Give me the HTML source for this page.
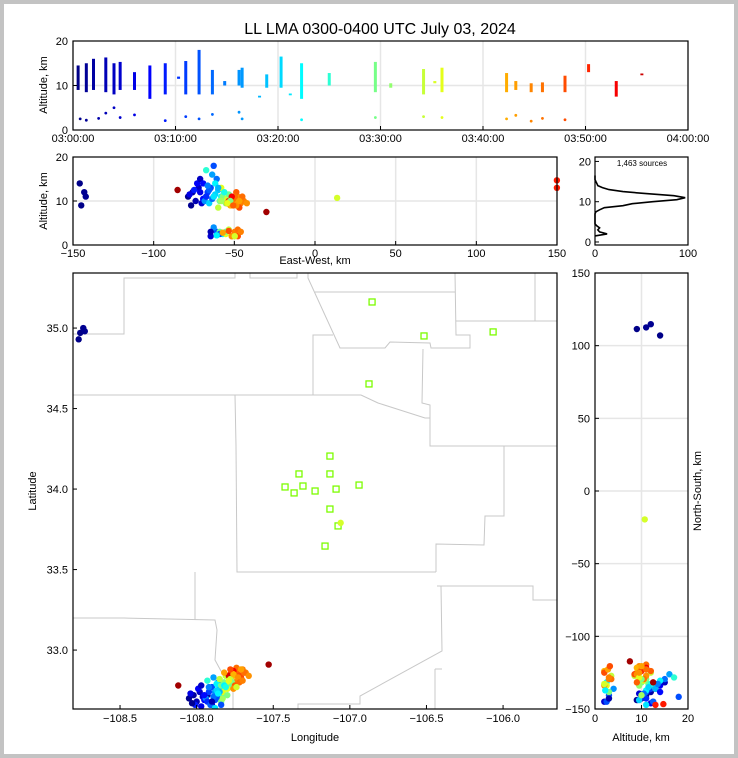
<!DOCTYPE html>
<html><head><meta charset="utf-8"><style>
html,body{margin:0;padding:0;background:#fff}
svg{display:block;font-family:"Liberation Sans","DejaVu Sans",sans-serif}
</style></head><body>
<svg id="chart" width="738" height="758" viewBox="0 0 738 758" xmlns="http://www.w3.org/2000/svg">
<rect x="0" y="0" width="738" height="758" fill="#c3c3c3"/>
<rect x="4" y="4" width="730" height="750" fill="#ffffff"/>
<text x="380" y="34" font-size="16" text-anchor="middle" fill="#000">LL LMA 0300-0400 UTC July 03, 2024</text>
<g id="layer"></g>
</svg>
<script>
// ---- data ----
var timeTickLabels = ["03:00:00","03:10:00","03:20:00","03:30:00","03:40:00","03:50:00","04:00:00"];
var flashTime = [0.5,1.3,2,3.2,4,4.6,6,7.5,9,10.3,11,12.3,13.6,14.8,16.2,16.5,18.2,18.9,20.3,21.2,22.3,25,29.5,31,34.2,35.3,36,42.3,43.2,44.7,45.8,48,50.3,53,55.5];
var flashLo   = [9,8.5,9,8.5,8,9,9,7,8,11.5,8,8,8,10,10,9.5,7.3,9.5,9.5,7.8,7,10,8.5,9.5,8,10.5,8.5,8.5,9,8.5,8.5,8.5,13,7.5,12.3];
var flashHi   = [14.5,15,16,16.3,15,15.3,13,14.5,15,12,15.5,18,13.5,11,13.5,14,7.7,12.5,16.5,8.2,15,12.8,15.3,10.5,13.7,11,14,12.8,11,10.5,10.7,12.2,14.8,11,12.7];
var lowTime = [0.7,1.3,2.5,3.2,4,4.6,6,9,11,12.3,13.6,16.2,16.5,22.3,29.5,34.2,36,42.3,43.2,44.7,45.8,48];
var lowAlt  = [2.5,2.2,2.6,3.8,5,2.8,3.4,2.1,3,2.5,3.5,4,2.5,2.3,2.8,3,2.8,2.5,3.3,2,2.6,2.3];
// sources (lon, lat, alt km, minutes after 03:00)
var srcLon = [-108.05,-108.02,-108.00,-107.98,-107.96,-108.04,-107.99,-107.95,-108.01,-107.97,-107.93,-108.03,
  -107.92,-107.90,-107.88,-107.86,-107.94,-107.89,-107.85,-107.91,-107.87,-107.83,-107.93,-107.88,
  -107.84,-107.82,-107.80,-107.81,-107.79,-107.83,-107.85,-107.78,
  -107.76,-107.74,-107.72,-107.70,-107.75,-107.73,-107.71,-107.77,-107.68,-107.74,
  -107.78,-107.76,-107.79,
  -107.90,-107.86,-107.82,-107.78,-107.76,-107.74,-107.88,-107.80,-107.72,-107.84,
  -107.97,-107.93,-107.89,-107.85,-107.81,-107.77,-107.73,-107.69,-107.95,-107.91,-107.87,-107.83,-107.79,-107.75,-107.71,-107.66,-107.92,-107.88,
  -107.84,-107.80,-107.76,-107.72,-107.90,-107.86,-107.82,-107.78,-107.74,-107.70,
  -108.77,-108.76,-108.73,-108.74,-108.12,-107.53,-107.06,-105.60,-105.60];
var srcLat = [32.70,32.72,32.68,32.74,32.71,32.73,32.76,32.69,32.66,32.78,32.72,32.67,
  32.74,32.77,32.72,32.80,32.70,32.83,32.76,32.67,32.79,32.73,32.81,32.69,
  32.78,32.80,32.76,32.84,32.79,32.74,32.82,32.77,
  32.84,32.86,32.82,32.88,32.80,32.85,32.83,32.87,32.86,32.89,
  32.85,32.87,32.84,
  32.66,32.70,32.78,32.82,32.85,32.80,32.74,32.76,32.84,32.68,
  32.65,32.68,32.71,32.74,32.77,32.80,32.83,32.86,32.72,32.66,32.75,32.70,32.81,32.78,32.88,32.84,32.77,32.64,
  32.66,32.72,32.76,32.80,32.68,32.73,32.86,32.88,32.77,32.81,
  34.93,34.97,34.98,35.00,32.78,32.91,33.79,32.64,32.645];
var srcAlt = [11,12,10,13,9.5,11.5,14,10.5,12.5,15,11,9,
  12,13,11,15,10,16,12.5,9.5,14,11,17,18,
  10,11,9.5,12,10.5,13,8.5,11.5,
  9,10,11,9.5,10.5,12,8.5,9,10,11,
  10,11,9.5,
  2,3,2.5,3.5,2,3,4,2.5,2,3,
  12,11,10.5,13,12,10,9,11,14,12.5,11.5,10,9.5,9,10,9.5,13.5,11,
  2.5,3,2,3.5,3,2.2,2.8,3.2,2,3,
  14,9,11,12,12.5,7.5,10.7,13,14.7];
var srcTime = [1,2,3,4,5,6,7,8,9,4,2,1,
  11,12,13,14,16,17,19,20,22,22,25,12,
  29,30,31,34,35,36,34,29,
  42,43,44,45,46,47,48,42,45,46,
  50,53,55,
  5,12,22,34,42,45,16,36,48,29,
  6,10,14,18,24,30,44,46,8,13,20,32,36,47,43,44,15,21,
  12,30,44,46,3,22,43,48,35,45,
  0.5,0.5,1,1,58,58,35,51,51];
var histAlt   = [1.5,2,2.5,3,3.5,4,4.5,5,5.5,6,6.5,7,7.5,8,8.5,9,9.5,10,10.5,11,11.5,12,12.5,13,13.5,14,14.5,15,15.5,16,16.5];
var histCount = [0,13,5,3,5,2,0,0,0,0,0,0,1,5,10,30,40,62,88,97,85,55,30,15,8,3,2,1,0,0,0];
var stationLon = [-106.855,-106.516,-106.065,-106.875,-107.130,-107.332,-107.130,-107.423,-107.306,-107.364,-107.227,-107.090,-106.940,-107.130,-107.077,-107.162];
var stationLat = [35.162,34.951,34.976,34.653,34.205,34.094,34.094,34.013,34.019,33.976,33.988,34.000,34.025,33.876,33.771,33.646];
var sourceLabel = "1,463 sources";

// ---- helpers ----
var NS = "http://www.w3.org/2000/svg";
var layer = document.getElementById('layer');
function mk(tag, attrs, parent){ var e=document.createElementNS(NS,tag); for(var k in attrs) e.setAttribute(k,attrs[k]); (parent||layer).appendChild(e); return e; }
function lin(d0,d1,r0,r1){ return function(v){ return r0+(v-d0)/(d1-d0)*(r1-r0); }; }
function jet(t){ t=Math.max(0,Math.min(1,t)); function c(v){return Math.round(255*Math.max(0,Math.min(1,v)));}
  return "rgb("+c(1.5-Math.abs(4*t-3))+","+c(1.5-Math.abs(4*t-2))+","+c(1.5-Math.abs(4*t-1))+")"; }
function colorT(m){ return jet(m/60); }
var lon0=-107.207, lat0=33.966, kmLon=93.3, kmLat=111;
function ewKm(lon){ return (lon-lon0)*kmLon; }
function nsKm(lat){ return (lat-lat0)*kmLat; }
function txt(x,y,s,anchor,size,name,rot){ var t=mk('text',{x:x,y:y,'font-size':size||11,'text-anchor':anchor||'middle',fill:'#000'}); if(rot) t.setAttribute('transform','rotate('+rot+' '+x+' '+y+')'); t.textContent=s;
  
  
  return t; }
function frame(x0,y0,x1,y1,name){ var r=mk('rect',{x:x0,y:y0,width:x1-x0,height:y1-y0,fill:'none',stroke:'#000','stroke-width':1.2});
  
   }
function grid(x1,y1,x2,y2){ var l=mk('line',{x1:x1,y1:y1,x2:x2,y2:y2,stroke:'#e6e6e6','stroke-width':1.5});
  
   }
function tick(x1,y1,x2,y2){ var l=mk('line',{x1:x1,y1:y1,x2:x2,y2:y2,stroke:'#000','stroke-width':1});
  
   }
function dot(x,y,r,fill){ var c=mk('circle',{cx:x,cy:y,r:r,fill:fill});
  
   return c; }

// ---- top panel: time-height ----
(function(){
  var X=lin(0,60,73,688), Y=lin(0,20,130,41), i;
  for(i=0;i<=6;i++) grid(X(i*10),41,X(i*10),130);
  grid(73,Y(10),688,Y(10));
  for(i=0;i<flashTime.length;i++){
    var r=mk('rect',{x:X(flashTime[i])-1.5,y:Y(flashHi[i]),width:3,height:Math.max(1.5,Y(flashLo[i])-Y(flashHi[i])),fill:colorT(flashTime[i])});
    
    
  }
  for(i=0;i<lowTime.length;i++) dot(X(lowTime[i]),Y(lowAlt[i]),1.4,colorT(lowTime[i]));
  frame(73,41,688,130,'time-height-axes');
  for(i=0;i<=6;i++){ tick(X(i*10),130,X(i*10),126); txt(X(i*10),142,timeTickLabels[i],'middle',11,'time-tick-label'); }
  [0,10,20].forEach(function(v){ tick(73,Y(v),77,Y(v)); txt(68,Y(v)+4,String(v),'end',11,'altitude-tick-label'); });
  txt(47,85,'Altitude, km','middle',11,'y-axis-title',-90);
})();

// ---- middle panel: east-west vs altitude ----
(function(){
  var X=lin(-150,150,73,557), Y=lin(0,20,245,157), i;
  for(i=-150;i<=150;i+=50) grid(X(i),157,X(i),245);
  grid(73,Y(10),557,Y(10));
  for(i=0;i<srcLon.length;i++){ var x=X(ewKm(srcLon[i])); x=Math.min(557,Math.max(73,x)); dot(x,Y(srcAlt[i]),3.2,colorT(srcTime[i])); }
  frame(73,157,557,245,'east-west-axes');
  for(i=-150;i<=150;i+=50){ tick(X(i),245,X(i),241); txt(X(i),257,String(i).replace('-','\u2212'),'middle',11,'ew-tick-label'); }
  [0,10,20].forEach(function(v){ tick(73,Y(v),77,Y(v)); txt(68,Y(v)+4,String(v),'end',11,'altitude-tick-label'); });
  txt(315,264,'East-West, km','middle',11,'x-axis-title');
  txt(47,201,'Altitude, km','middle',11,'y-axis-title',-90);
})();

// ---- histogram ----
(function(){
  var X=lin(0,100,595,688), Y=lin(-0.75,21.1,245,157), i, d='';
  for(i=0;i<histAlt.length;i++){ d+=(i?'L':'M')+X(histCount[i]).toFixed(1)+','+Y(histAlt[i]).toFixed(1); }
  var p=mk('path',{d:d,fill:'none',stroke:'#000','stroke-width':1.6});
  
  
  frame(595,157,688,245,'histogram-axes');
  [0,100].forEach(function(v){ tick(X(v),245,X(v),241); txt(X(v),257,String(v),'middle',11,'count-tick-label'); });
  [0,10,20].forEach(function(v){ tick(595,Y(v),599,Y(v)); txt(591,Y(v)+4,String(v),'end',11,'altitude-tick-label'); });
  txt(642,166,sourceLabel,'middle',8,'source-count-label');
})();

// ---- map panel ----
(function(){
  var X=lin(-108.807,-105.648,73,557), Y=lin(32.634,35.342,709,273), i;
  var clip=mk('clipPath',{id:'mapclip'}); mk('rect',{x:73,y:273,width:484,height:436},clip);
  var g=mk('g',{'clip-path':'url(#mapclip)'});
  
  
  var borders=[
    "73,334 124,334 124,278 235,278 235,273","250,273 250,278 297,278 297,273",
    "308,273 308,278 340,348 385,348 390,342 430,343 431,348 470,348 470,335 456,335 455,273",
    "315,292 455,292","456,321 557,321","535,273 535,321","313,395 313,335 333,335",
    "73,395 361,395 378,403 425,418 430,418","423,349 422,403 430,405 430,446 557,446",
    "235,395 236,446 237,572 436,572","195,572 195,620","73,618 124,618 215,620 217,630 215,660 221,671 229,678 233,690 233,712",
    "436,572 436,544 484,545 485,516 504,516 504,446","437,586 533,586 533,600 557,600",
    "441,586 442,651 360,696 360,704 298,704 298,712","435,669 442,669","435,669 435,712"];
  borders.forEach(function(b){ var pl=mk('polyline',{points:b,fill:'none',stroke:'#c8c8c8','stroke-width':1},g);
    
     });
  for(i=0;i<stationLon.length;i++){ var s=mk('rect',{x:X(stationLon[i])-3,y:Y(stationLat[i])-3,width:6,height:6,fill:'none',stroke:'#7cfc00','stroke-width':1.3},g);
    
     }
  for(i=0;i<srcLon.length;i++){ var c=dot(X(srcLon[i]),Y(srcLat[i]),3.2,colorT(srcTime[i])); g.appendChild(c); }
  frame(73,273,557,709,'map-axes');
  for(i=0;i<6;i++){ var v=-108.5+i*0.5; tick(X(v),709,X(v),705); txt(X(v),722,'\u2212'+Math.abs(v).toFixed(1),'middle',11,'longitude-tick-label'); }
  for(i=0;i<5;i++){ var w=33+i*0.5; tick(73,Y(w),77,Y(w)); txt(68,Y(w)+4,w.toFixed(1),'end',11,'latitude-tick-label'); }
  txt(315,741,'Longitude','middle',11,'x-axis-title');
  txt(36,491,'Latitude','middle',11,'y-axis-title',-90);
})();

// ---- right panel: altitude vs north-south ----
(function(){
  var X=lin(0,20,595,688), Y=lin(-150,150,709,273), i;
  for(i=-150;i<=150;i+=50) grid(595,Y(i),688,Y(i));
  grid(X(10),273,X(10),709);
  for(i=0;i<srcLon.length;i++){ var y=Math.min(709,Math.max(273,Y(nsKm(srcLat[i])))); dot(X(srcAlt[i]),y,3.2,colorT(srcTime[i])); }
  frame(595,273,688,709,'north-south-axes');
  [0,10,20].forEach(function(v){ tick(X(v),709,X(v),705); txt(X(v),722,String(v),'middle',11,'altitude-tick-label'); });
  for(i=-150;i<=150;i+=50){ tick(595,Y(i),599,Y(i)); txt(590,Y(i)+4,String(i).replace('-','\u2212'),'end',11,'ns-tick-label'); }
  txt(641,741,'Altitude, km','middle',11,'x-axis-title');
  txt(701,491,'North-South, km','middle',11,'y-axis-title',-90);
})();
</script>
</body></html>
